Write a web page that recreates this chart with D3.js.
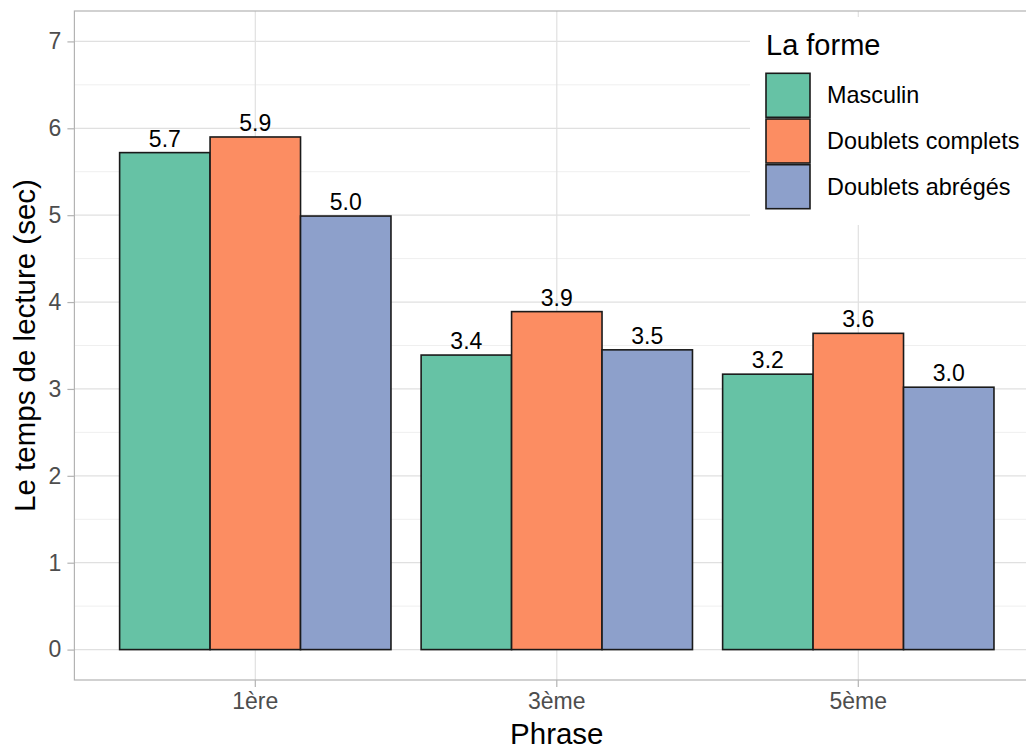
<!DOCTYPE html>
<html>
<head>
<meta charset="utf-8">
<script src="https://cdn.jsdelivr.net/npm/d3@7"></script>
<style>
  html, body { margin: 0; padding: 0; background: #fff; }
  svg { display: block; font-family: "Liberation Sans", Arial, Helvetica, sans-serif; }
</style>
</head>
<body>
<svg id="chart" width="1026" height="749"></svg>
<script>
// ---- data ----
const categories = ["1ère", "3ème", "5ème"];
const seriesNames = ["Masculin", "Doublets complets", "Doublets abrégés"];
const masculin = [5.72, 3.39, 3.17];
const doubletsComplets = [5.90, 3.89, 3.64];
const doubletsAbreges = [4.99, 3.45, 3.02];
const seriesColors = ["#66c2a5", "#fc8d62", "#8da0cb"];
const yTicks = [0, 1, 2, 3, 4, 5, 6, 7];
const yMinorTicks = [0.5, 1.5, 2.5, 3.5, 4.5, 5.5, 6.5];
const xTitle = "Phrase";
const yTitle = "Le temps de lecture (sec)";
const legendTitle = "La forme";

const seriesValues = [masculin, doubletsComplets, doubletsAbreges];
const rows = categories.map((c, i) => ({
  cat: c,
  vals: seriesNames.map((s, j) => ({ series: s, value: seriesValues[j][i], color: seriesColors[j] }))
}));

// ---- layout ----
const svg = d3.select("#chart");
const panel = { left: 74.4, top: 11, bottom: 680 };
const step = 301.5;
const panelRight = panel.left + 3.2 * step;

const x = d3.scaleBand().domain(categories)
  .range([panel.left, panelRight])
  .paddingInner(0.1).paddingOuter(0.15);
const xs = d3.scaleBand().domain(seriesNames).range([0, x.bandwidth()]);
const y = d3.scaleLinear().domain([-0.35, 7.35]).range([panel.bottom, panel.top]);

// grid
const grid = svg.append("g");
grid.selectAll("line.minor").data(yMinorTicks).enter().append("line")
  .attr("x1", panel.left).attr("x2", panelRight)
  .attr("y1", d => y(d)).attr("y2", d => y(d))
  .attr("stroke", "#efefef").attr("stroke-width", 1);
grid.selectAll("line.major").data(yTicks).enter().append("line")
  .attr("x1", panel.left).attr("x2", panelRight)
  .attr("y1", d => y(d)).attr("y2", d => y(d))
  .attr("stroke", "#e0e0e0").attr("stroke-width", 1.2);
grid.selectAll("line.vmajor").data(categories).enter().append("line")
  .attr("x1", d => x(d) + x.bandwidth() / 2).attr("x2", d => x(d) + x.bandwidth() / 2)
  .attr("y1", panel.top).attr("y2", panel.bottom)
  .attr("stroke", "#e0e0e0").attr("stroke-width", 1.2);

// bars
const groups = svg.append("g").selectAll("g").data(rows).enter().append("g")
  .attr("transform", d => `translate(${x(d.cat)},0)`);
groups.selectAll("rect").data(d => d.vals).enter().append("rect")
  .attr("x", d => xs(d.series))
  .attr("width", xs.bandwidth())
  .attr("y", d => y(d.value))
  .attr("height", d => y(0) - y(d.value))
  .attr("fill", d => d.color)
  .attr("stroke", "#1a1a1a").attr("stroke-width", 1.6);
groups.selectAll("text").data(d => d.vals).enter().append("text")
  .attr("x", d => xs(d.series) + xs.bandwidth() / 2)
  .attr("y", d => y(d.value) - 6)
  .attr("text-anchor", "middle")
  .attr("font-size", 23)
  .attr("fill", "#000")
  .text(d => d3.format(".1f")(d.value));

// panel border
svg.append("rect")
  .attr("x", panel.left).attr("y", panel.top)
  .attr("width", panelRight - panel.left).attr("height", panel.bottom - panel.top)
  .attr("fill", "none").attr("stroke", "#b3b3b3").attr("stroke-width", 1.2);

// axes
const yAxis = svg.append("g").attr("transform", `translate(${panel.left},0)`)
  .call(d3.axisLeft(y).tickValues(yTicks).tickSize(7).tickPadding(6).tickFormat(d3.format("d")));
yAxis.select(".domain").remove();
yAxis.selectAll(".tick line").attr("stroke", "#b3b3b3").attr("stroke-width", 1.2);
yAxis.selectAll(".tick text").attr("fill", "#4d4d4d").attr("font-size", 23)
  .attr("font-family", "Liberation Sans, Arial, sans-serif");

const xAxis = svg.append("g").attr("transform", `translate(0,${panel.bottom})`)
  .call(d3.axisBottom(x).tickSize(7).tickPadding(6));
xAxis.select(".domain").remove();
xAxis.selectAll(".tick line").attr("stroke", "#b3b3b3").attr("stroke-width", 1.2);
xAxis.selectAll(".tick text").attr("fill", "#4d4d4d").attr("font-size", 23)
  .attr("font-family", "Liberation Sans, Arial, sans-serif");

// titles
svg.append("text")
  .attr("x", (panel.left + panelRight) / 2).attr("y", 744)
  .attr("text-anchor", "middle").attr("font-size", 29.5).attr("fill", "#000")
  .text(xTitle);
svg.append("text")
  .attr("transform", `translate(35,${(panel.top + panel.bottom) / 2}) rotate(-90)`)
  .attr("text-anchor", "middle").attr("font-size", 29.5).attr("fill", "#000")
  .text(yTitle);

// legend
const lg = svg.append("g");
lg.append("rect").attr("x", 750).attr("y", 17).attr("width", 290).attr("height", 208).attr("fill", "#fff");
lg.append("text").attr("x", 766).attr("y", 55).attr("font-size", 29).attr("fill", "#000").text(legendTitle);
const items = lg.selectAll("g.item").data(seriesNames).enter().append("g")
  .attr("transform", (d, i) => `translate(766,${73.3 + i * 45.7})`);
items.append("rect").attr("width", 44).attr("height", 44)
  .attr("fill", (d, i) => seriesColors[i]).attr("stroke", "#1a1a1a").attr("stroke-width", 1.6);
items.append("text").attr("x", 61).attr("y", 22).attr("dy", "0.35em")
  .attr("font-size", 23.4).attr("fill", "#000").text(d => d);
</script>
</body>
</html>
